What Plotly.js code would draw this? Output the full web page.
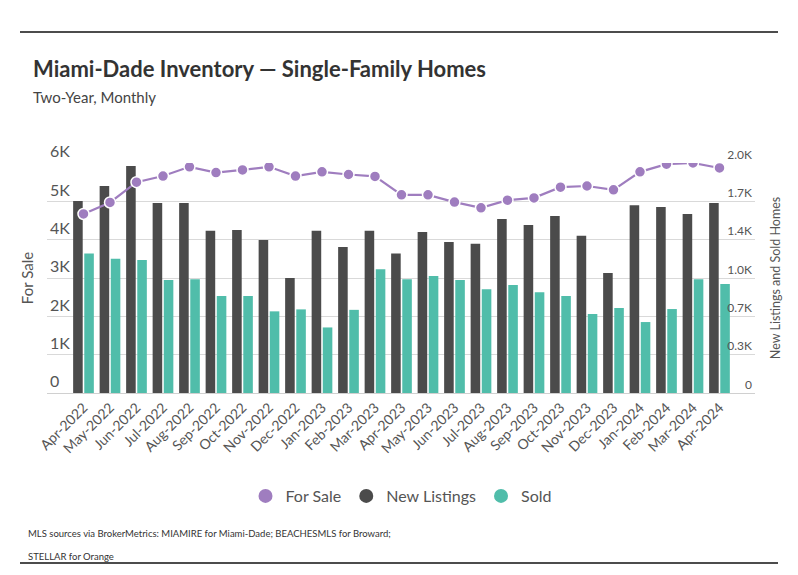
<!DOCTYPE html>
<html>
<head>
<meta charset="utf-8">
<script src="https://cdn.plot.ly/plotly-3.0.1.min.js"></script>
<style>
  html, body { margin: 0; padding: 0; background: #fff; }
  #chart { width: 798px; height: 575px; }
</style>
</head>
<body>
<div id="chart"></div>
<script>
const months = ["Apr-2022","May-2022","Jun-2022","Jul-2022","Aug-2022","Sep-2022","Oct-2022","Nov-2022","Dec-2022","Jan-2023","Feb-2023","Mar-2023","Apr-2023","May-2023","Jun-2023","Jul-2023","Aug-2023","Sep-2023","Oct-2023","Nov-2023","Dec-2023","Jan-2024","Feb-2024","Mar-2024","Apr-2024"];
const forSale = [4670,4970,5500,5660,5900,5750,5820,5900,5660,5770,5700,5650,5170,5170,4980,4830,5030,5090,5370,5400,5300,5770,5970,6000,5870];
const newListings = [1670,1800,1973,1653,1653,1410,1417,1330,1000,1410,1270,1410,1213,1400,1313,1297,1513,1460,1540,1367,1043,1633,1617,1557,1653];
const sold = [1213,1167,1157,983,990,843,843,710,727,570,723,1077,990,1017,983,903,940,877,843,687,740,617,730,990,947];
const leftTickVals = [0,1000,2000,3000,4000,5000,6000];
const leftTickText = ["0","1K","2K","3K","4K","5K","6K"];
const rightTickVals = [0,333.3,666.7,1000,1333.3,1666.7,2000];
const rightTickText = ["0","0.3K","0.7K","1.0K","1.4K","1.7K","2.0K"];

const FONT = 'Lato, "Noto Sans", sans-serif';
const PURPLE = '#9f7dbf', DARK = '#4b4b4b', TEAL = '#50bdaa';

const traces = [
  {type:'bar', name:'New Listings', x:months, y:newListings, yaxis:'y', marker:{color:DARK}, showlegend:false},
  {type:'bar', name:'Sold', x:months, y:sold, yaxis:'y', marker:{color:TEAL}, showlegend:false},
  {type:'scatter', mode:'lines+markers', name:'For Sale', x:months, y:forSale, yaxis:'y2',
   line:{color:PURPLE, width:2.2}, marker:{color:PURPLE, size:11, line:{color:'#fff', width:1.5}}, showlegend:false},
  {type:'scatter', mode:'markers', name:'For Sale', x:[null], y:[null], yaxis:'y2', marker:{color:PURPLE, size:14}},
  {type:'scatter', mode:'markers', name:'New Listings', x:[null], y:[null], yaxis:'y2', marker:{color:DARK, size:14}},
  {type:'scatter', mode:'markers', name:'Sold', x:[null], y:[null], yaxis:'y2', marker:{color:TEAL, size:14}}
];

const layout = {
  width:798, height:575,
  margin:{l:47, r:43, t:163, b:182},
  paper_bgcolor:'#fff', plot_bgcolor:'#fff',
  font:{family:FONT, color:'#555'},
  barmode:'group', bargap:0.16, bargroupgap:0.14,
  title:{text:'<b>Miami-Dade Inventory — Single-Family Homes</b>', font:{family:FONT, size:22, color:'#333'},
         x:33/798, xanchor:'left', xref:'container', y:1-69/575, yanchor:'middle', yref:'container'},
  xaxis:{type:'category', range:[-1.377, 25.34], showgrid:false, showline:true, linecolor:'#d0d0d0', linewidth:1,
         tickangle:-45, tickfont:{size:14, color:'#555'}, ticks:'', fixedrange:true},
  yaxis:{side:'right', range:[0,2000], tickvals:rightTickVals, ticktext:rightTickText, ticklabelposition:'inside top',
         ticklabeloverflow:'allow', showgrid:true, gridcolor:'#d9d9d9', zeroline:false, tickfont:{size:12, color:'#555'},
         title:{text:'New Listings and Sold Homes', font:{size:12.5, color:'#555'}, standoff:20}},
  yaxis2:{side:'left', overlaying:'y', range:[0,6000], tickvals:leftTickVals, ticktext:leftTickText, ticklabelposition:'inside top',
          ticklabeloverflow:'allow', showgrid:false, zeroline:false, tickfont:{size:16, color:'#555'},
          title:{text:'For Sale', font:{size:15, color:'#555'}, standoff:12}},
  legend:{orientation:'h', x:0.5, xanchor:'center', y:(393-496)/230, yanchor:'middle', font:{size:16, color:'#555'},
          itemwidth:30, traceorder:'normal'},
  shapes:[
    {type:'line', xref:'paper', yref:'paper', x0:(20-47)/708, x1:(778-47)/708, y0:(393-32)/230, y1:(393-32)/230, line:{color:'#111', width:1.5}},
    {type:'line', xref:'paper', yref:'paper', x0:(20-47)/708, x1:(778-47)/708, y0:(393-563)/230, y1:(393-563)/230, line:{color:'#111', width:1.5}}
  ],
  annotations:[
    {text:'Two-Year, Monthly', xref:'paper', yref:'paper', x:(31-47)/708, y:(393-97)/230, xanchor:'left', yanchor:'middle', showarrow:false, font:{size:15, color:'#444'}},
    {text:'MLS sources via BrokerMetrics: MIAMIRE for Miami-Dade; BEACHESMLS for Broward;', xref:'paper', yref:'paper', x:(26-47)/708, y:(393-533)/230, xanchor:'left', yanchor:'middle', showarrow:false, font:{size:9.5, color:'#333'}},
    {text:'STELLAR for Orange', xref:'paper', yref:'paper', x:(26-47)/708, y:(393-556)/230, xanchor:'left', yanchor:'middle', showarrow:false, font:{size:9.5, color:'#333'}}
  ]
};

Plotly.newPlot('chart', traces, layout, {displayModeBar:false, staticPlot:true});
</script>
</body>
</html>
